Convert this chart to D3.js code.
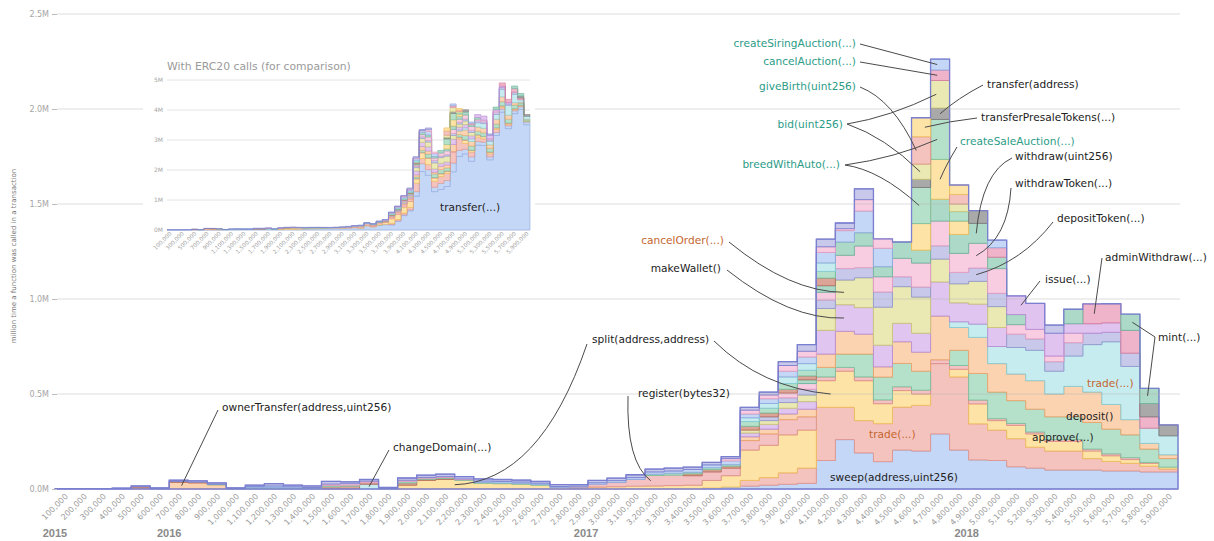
<!DOCTYPE html>
<html><head><meta charset="utf-8">
<script src="https://cdn.jsdelivr.net/npm/d3@7"></script>
<style>html,body{margin:0;padding:0;background:#fff;} svg{display:block;}</style>
</head><body>
<svg id="chart" width="1214" height="541" font-family="'DejaVu Sans', sans-serif"></svg>
<script>
// ---------------- DATA ----------------
const binLabels = ["100,000","200,000","300,000","400,000","500,000","600,000","700,000","800,000","900,000","1,000,000",
"1,100,000","1,200,000","1,300,000","1,400,000","1,500,000","1,600,000","1,700,000","1,800,000","1,900,000","2,000,000",
"2,100,000","2,200,000","2,300,000","2,400,000","2,500,000","2,600,000","2,700,000","2,800,000","2,900,000","3,000,000",
"3,100,000","3,200,000","3,300,000","3,400,000","3,500,000","3,600,000","3,700,000","3,800,000","3,900,000","4,000,000",
"4,100,000","4,200,000","4,300,000","4,400,000","4,500,000","4,600,000","4,700,000","4,800,000","4,900,000","5,000,000",
"5,100,000","5,200,000","5,300,000","5,400,000","5,500,000","5,600,000","5,700,000","5,800,000","5,900,000"];
const yTicks = [0,0.5,1,1.5,2,2.5];
const yTickLabels = ["0.0M","0.5M","1.0M","1.5M","2.0M","2.5M"];
const insetTicks = [0,1,2,3,4,5];
const insetTickLabels = ["0M","1M","2M","3M","4M","5M"];
const years = ["2015","2016","2017","2018"];
const yearBlocks = [0,600000,2790000,4790000];

// values in millions of calls per 100k-block bin
const ownerTransfer = [0,0,0,0,.006,0,.035,.032,.022,0, 0,0,0,0,0,0,0,0,0,0, 0,0,0,0,0,0,0,0,0,0, 0,0,0,0,0,0,0,0,0,0, 0,0,0,0,0,0,0,0,0,0, 0,0,0,0,0,0,0,0,0];
const changeDomain = [0,0,0,0,0,0,0,0,0,0, 0,0,0,0,0,0,.025,0,0,0, 0,0,0,0,0,0,0,0,0,0, 0,0,0,0,0,0,0,0,0,0, 0,0,0,0,0,0,0,0,0,0, 0,0,0,0,0,0,0,0,0];
const sweep = [0,0,0,0,0,0,0,0,0,0, 0,0,0,0,0,0,0,0,0,0, 0,0,0,0,0,0,0,0,0,0,
  0,0,0,0,.005,.01,.015,.02,.025,.03, .15,.26,.19,.144,.205,.2,.29,.205,.153,.15, .117,.11,.1,.1,.1,.095,.095,.09,.09];
const trade = [0,0,0,0,0,0,0,0,0,0, 0,0,0,0,0,0,0,0,0,0, 0,0,0,0,0,0,0,0,0,0,
  0,0,0,0,0,0,.03,.04,.06,.08, .28,.17,.17,.2,.226,.24,.37,.385,.19,.16, .148,.11,.1,.1,.06,.05,.04,.03,.015];
const split = [0,0,0,0,0,0,0,0,0,0, 0,0,0,0,0,0,0,0,.02,.045, .05,.045,.03,.028,.025,.02,.008,.006,.01,.012,
  .015,.016,.018,.02,.04,.06,.16,.17,.2,.2, .14,.19,.21,.105,.087,.06,0,.04,.105,.05, .07,.07,.05,.05,.04,.03,.02,.015,.01];
const register = [0,0,0,0,0,0,0,0,0,0, 0,0,0,0,0,0,0,0,0,0, 0,0,0,0,0,0,0,.004,.015,.022,
  .035,.055,.055,.05,.045,.04,.05,.06,.08,.07, .02,.02,.02,.02,.02,.02,.02,.02,.02,.01, .01,.01,.01,.01,.01,.01,.01,.005,0];
const approve = [0,0,0,0,0,0,0,0,0,0, 0,0,0,0,0,0,0,0,0,0, 0,0,0,0,0,0,0,0,0,0, 0,0,0,0,0,0,0,0,0,0,
  .05,.07,.12,.12,.123,.1,0,.08,.14,.14, .12,.12,.12,.12,.14,.13,.12,.07,.045];
const deposit = [0,0,0,0,0,0,0,0,0,0, 0,0,0,0,0,0,0,0,0,0, 0,0,0,0,0,0,0,0,0,0,
  0,0,0,0,0,0,.02,.025,.03,.04, .07,.12,.105,.054,.114,.1,.23,.12,.19,.15, .14,.15,.12,.16,.16,.13,.08,.03,.02];
const trade2 = [0,0,0,0,0,0,0,0,0,0, 0,0,0,0,0,0,0,0,0,0, 0,0,0,0,0,0,0,0,0,0, 0,0,0,0,0,0,0,0,0,0,
  0,0,0,0,0,0,0,.03,.07,.09, .14,.16,.12,.16,.25,.33,.28,.08,.1];
const makeWallet = [0,0,0,0,0,0,0,0,0,0, 0,0,0,0,0,0,0,0,0,0, 0,0,0,0,0,0,0,0,0,0,
  0,0,0,0,0,0,.02,.025,.03,.04, .125,.14,.14,.114,.097,.1,.18,.1,.105,.1, 0,0,0,0,0,0,0,0,0];
const cancelOrder = [0,0,0,0,0,0,0,0,0,0, 0,0,0,0,0,0,0,0,0,0, 0,0,0,0,0,0,0,0,0,0,
  0,0,0,0,0,0,.015,.02,.03,.035, .115,.13,.157,.2,.193,.19,.12,.1,.12,.11, 0,0,0,0,0,0,0,0,0];
const depositToken = [0,0,0,0,0,0,0,0,0,0, 0,0,0,0,0,0,0,0,0,0, 0,0,0,0,0,0,0,0,0,0,
  0,0,0,0,0,0,0,.02,.025,.03, .045,.06,.053,.08,.052,.053,.07,.06,.07,.07, .07,.06,.05,.07,.06,.05,.07,0,0];
const withdrawToken = [0,0,0,0,0,0,0,0,0,0, 0,0,0,0,0,0,0,0,0,0, 0,0,0,0,0,0,0,0,0,0,
  0,0,0,0,0,0,0,0,.025,.03, .04,.07,.114,.08,.097,.126,.13,.1,.13,.13, .05,.05,.03,.05,0,0,0,0,0];
const withdraw = [0,0,0,0,0,0,0,0,0,0, 0,0,0,0,0,0,0,0,0,0, 0,0,0,0,0,0,0,0,0,0,
  0,0,0,0,0,0,0,0,0,.02, .035,.07,.07,.053,.086,.068,.115,.1,.105,.06, .053,0,0,0,0,0,0,0,0];
const issue = [0,0,0,0,0,0,0,0,0,0, 0,0,0,0,0,0,0,0,0,0, 0,0,0,0,0,0,0,0,0,0, 0,0,0,0,0,0,0,0,0,0,
  0,0,0,0,0,0,0,0,0,0, .098,.137,.12,.05,.05,.05,0,0,0];
const adminWithdraw = [0,0,0,0,0,0,0,0,0,0, 0,0,0,0,0,0,0,0,0,0, 0,0,0,0,0,0,0,0,0,0, 0,0,0,0,0,0,0,0,0,0,
  0,0,0,0,0,0,0,0,0,.05, 0,0,0,0,.104,.1,.12,.06,0];
const createSaleAuction = [0,0,0,0,0,0,0,0,0,0, 0,0,0,0,0,0,0,0,0,0, 0,0,0,0,0,0,0,0,0,0, 0,0,0,0,0,0,0,0,0,0,
  0,0,0,0,0,.14,.21,.07,0,0, 0,0,0,0,0,0,0,0,0];
const breedWithAuto = [0,0,0,0,0,0,0,0,0,0, 0,0,0,0,0,0,0,0,0,0, 0,0,0,0,0,0,0,0,0,0, 0,0,0,0,0,0,0,0,0,0,
  0,0,0,0,0,.19,.21,.05,0,0, 0,0,0,0,0,0,0,0,0];
const transferAddr = [0,0,0,0,0,0,0,0,0,0, 0,0,0,0,0,0,0,0,0,0, 0,0,0,0,0,0,0,0,0,0, 0,0,0,0,0,0,0,0,0,0,
  0,0,0,0,0,.043,.06,0,.067,0, 0,0,0,0,0,0,0,.07,.057];
const mint = [0,0,0,0,0,0,0,0,0,0, 0,0,0,0,0,0,0,0,0,0, 0,0,0,0,0,0,0,0,0,0, 0,0,0,0,0,0,0,0,0,0,
  0,0,0,0,0,0,0,0,0,0, 0,0,0,.076,0,0,.085,.08,0];
const bid = [0,0,0,0,0,0,0,0,0,0, 0,0,0,0,0,0,0,0,0,0, 0,0,0,0,0,0,0,0,0,0, 0,0,0,0,0,0,0,0,0,0,
  0,0,0,0,0,.08,.145,.04,0,0, 0,0,0,0,0,0,0,0,0];
const giveBirth = [0,0,0,0,0,0,0,0,0,0, 0,0,0,0,0,0,0,0,0,0, 0,0,0,0,0,0,0,0,0,0, 0,0,0,0,0,0,0,0,0,0,
  0,0,0,0,0,.144,0,.05,0,0, 0,0,0,0,0,0,0,0,0];
const transferPresaleTokens = [0,0,0,0,0,0,0,0,0,0, 0,0,0,0,0,0,0,0,0,0, 0,0,0,0,0,0,0,0,0,0, 0,0,0,0,0,0,0,0,0,0,
  0,0,0,0,0,.1,0,.05,0,0, 0,0,0,0,0,0,0,0,0];
const cancelAuction = [0,0,0,0,0,0,0,0,0,0, 0,0,0,0,0,0,0,0,0,0, 0,0,0,0,0,0,0,0,0,0, 0,0,0,0,0,0,0,0,0,0,
  0,0,0,0,0,0,.055,0,0,0, 0,0,0,0,0,0,0,0,0];
const createSiringAuction = [0,0,0,0,0,0,0,0,0,0, 0,0,0,0,0,0,0,0,0,0, 0,0,0,0,0,0,0,0,0,0, 0,0,0,0,0,0,0,0,0,0,
  0,0,0,0,0,0,.058,0,0,0, 0,0,0,0,0,0,0,0,0];
const otherRust = [0,0,0,0,.006,0,.004,.004,0,0, 0,0,0,0,.012,.015,.008,0,.012,.006, .005,0,0,0,0,0,0,0,0,0,
  0,0,0,.01,.012,.01,.02,.02,.02,.02, .04,0,0,0,0,0,0,0,0,0, 0,0,0,0,0,0,0,0,0];
const otherGreen = [0,0,0,0,0,.002,0,0,.003,.002, .008,.008,.006,.004,.006,.005,0,.003,.008,.005, .005,.004,.004,.004,.004,.003,0,0,0,0,
  0,.007,.01,.008,.01,.008,.025,.025,.03,.03, .035,0,0,0,0,0,0,0,0,0, 0,0,0,0,0,0,0,0,0];
const otherCyan = [0,0,0,0,0,0,0,0,0,0, 0,0,0,0,0,0,0,0,0,0, 0,0,0,0,0,0,0,0,0,0,
  0,0,0,0,0,0,.02,.025,.035,.035, .045,0,0,0,0,0,0,0,0,0, 0,0,0,0,0,0,0,0,0];
const otherBlue = [0,0,0,0,0,0,0,0,0,0, .006,.008,.006,.004,0,0,0,0,0,0, 0,0,.008,.008,.008,.008,.005,.005,.008,.01,
  .01,.012,.012,.015,.015,.02,.02,.025,.03,.035, .055,.06,.114,.097,0,0,0,0,0,.04, 0,0,0,0,0,0,0,0,0];
const otherPink = [0,0,0,0,0,0,0,0,0,0, 0,0,0,0,.008,.008,.008,0,.006,.005, .005,.004,0,0,0,0,0,0,0,0,
  0,0,0,0,0,.012,.02,.02,.03,.03, .03,.01,.06,.049,0,0,0,0,0,0, 0,0,0,0,0,0,0,0,0];
const otherLavender = [.002,.002,.002,.005,.004,.004,.007,.007,.007,.004, .006,.012,.008,.008,.014,.01,.009,.005,.012,.012,
  .013,.012,.011,.01,.01,.009,.01,.008,.012,.013, .015,.015,.015,.012,.013,.01,.015,.015,.02,.035,
  .04,.03,.057,0,0,0,0,0,0,0, 0,0,.043,0,0,0,0,0,0];
// inset: ERC20 transfer(...) calls (millions), stacked under the same functions
const insetTransfer = [.005,.005,.005,.005,.01,.008,.01,.01,.01,.012, .015,.015,.018,.02,.02,.022,.02,.03,.02,.02,
  .02,.025,.035,.04,.045,.05,.065,.07,.06,.065, .075,.06,.14,.1,.16,.18,.17,.29,.48,.64,
  1.13,1.95,1.82,1.28,1.35,1.45,1.94,2.45,2.54,2.29, 2.83,2.82,2.34,3.15,3.93,3.38,3.88,4.02,3.51];

// ---------------- STYLE ----------------
const seriesData = {ownerTransfer, changeDomain, sweep, trade, split, register, approve, deposit, trade2, makeWallet,
  cancelOrder, depositToken, withdrawToken, withdraw, issue, adminWithdraw, createSaleAuction, breedWithAuto,
  transferAddr, mint, bid, giveBirth, transferPresaleTokens, cancelAuction, createSiringAuction,
  otherRust, otherGreen, otherCyan, otherBlue, otherPink, otherLavender, insetTransfer};
const stackOrder = ["ownerTransfer","changeDomain","sweep","trade","split","register","approve","deposit","trade2",
  "makeWallet","cancelOrder","depositToken","withdrawToken","withdraw","issue","adminWithdraw","createSaleAuction",
  "breedWithAuto","transferAddr","mint","bid","giveBirth","transferPresaleTokens","cancelAuction","createSiringAuction",
  "otherRust","otherGreen","otherCyan","otherBlue","otherPink","otherLavender"];
const BLUE=["#c5d7f6","#8ea9df"], SALMON=["#f5c3bd","#e2958b"], YELLOW=["#fde3a6","#eebd5b"], GREEN=["#b5e1cb","#7bc19e"],
  PEACH=["#fcd3b0","#eba36b"], CYAN=["#c7ecef","#85ccd4"], LILAC=["#dfc5ef","#b98fd6"], KHAKI=["#eae8b3","#cbc677"],
  LAV=["#c8c9ea","#9398cf"], PINK=["#f8cde1","#e49dbf"], TEAL=["#acd9c8","#6fb79d"], ROSE=["#efb4ca","#d67d9f"],
  GRAY=["#a9a9a9","#7c7c7c"];
const styles = {ownerTransfer:PEACH, changeDomain:CYAN, sweep:BLUE, trade:SALMON, split:YELLOW, register:["#f4c2c2","#dd8e8e"],
  approve:GREEN, deposit:PEACH, trade2:CYAN, makeWallet:LILAC, cancelOrder:KHAKI, depositToken:LAV, withdrawToken:PINK,
  withdraw:TEAL, issue:["#e0c3ee","#b98bd5"], adminWithdraw:ROSE, createSaleAuction:YELLOW, breedWithAuto:GREEN,
  transferAddr:GRAY, mint:TEAL, bid:KHAKI, giveBirth:SALMON, transferPresaleTokens:YELLOW, cancelAuction:ROSE,
  createSiringAuction:BLUE, otherRust:["#dca497","#b8705f"], otherGreen:GREEN, otherCyan:CYAN, otherBlue:BLUE,
  otherPink:PINK, otherLavender:["#c8c9ea","#7b7fcf"], insetTransfer:BLUE};
const C_TEAL="#2c9c88", C_ORANGE="#c4662f", C_INK="#222";

// ---------------- DRAW ----------------
const svg = d3.select("#chart");
const x = d3.scaleBand().domain(binLabels).range([55,1178]).padding(0);
const y = d3.scaleLinear().domain([0,2.5]).range([489,14]);
const blockX = d3.scaleLinear().domain([0,5900000]).range([55,1178]);
const bw = x.bandwidth();

function buildRows(keys){ return binLabels.map((lab,i)=>{const r={label:lab}; keys.forEach(k=>r[k]=seriesData[k][i]); return r;}); }
function stepPoints(layer, xs){
  const pts=[]; layer.forEach((d,i)=>{const x0=xs(binLabels[i]), x1=x0+xs.bandwidth(), v=d[1]-d[0];
    pts.push({x:x0,a:d[0],b:d[1],v},{x:x1,a:d[0],b:d[1],v});}); return pts;
}

const layers = d3.stack().keys(stackOrder)(buildRows(stackOrder));
const area = d3.area().defined(p=>p.v>0).x(p=>p.x).y0(p=>y(p.a)).y1(p=>y(p.b));
const gA = svg.append("g");
layers.forEach(L=>{
  gA.append("path").attr("d", area(stepPoints(L,x))).attr("fill", styles[L.key][0])
    .attr("stroke", styles[L.key][1]).attr("stroke-width",0.9).attr("stroke-linejoin","miter");
});
// outline of total
const topL = layers[layers.length-1];
const tp = stepPoints(topL,x);
const outline = [{x:x(binLabels[0]),b:0}, ...tp, {x:x(binLabels[58])+bw,b:0}, {x:x(binLabels[0]),b:0}];
svg.append("path").attr("d", d3.line().x(p=>p.x).y(p=>y(p.b))(outline)).attr("fill","none")
  .attr("stroke","#7b7fcf").attr("stroke-width",1.3);

// gridlines (over areas, faint)
const yAxis = d3.axisLeft(y).tickValues(yTicks).tickFormat((d,i)=>yTickLabels[i]).tickSize(5).tickPadding(3);
const gy = svg.append("g").attr("transform","translate(57,0)").call(yAxis);
gy.select(".domain").remove();
gy.selectAll(".tick line").attr("stroke","#bbb");
gy.selectAll(".tick text").attr("fill","#a5a5a5").attr("font-size",8).attr("font-family","'DejaVu Sans', sans-serif");
svg.append("g").selectAll("line").data(yTicks.filter(d=>d>0)).join("line")
  .attr("x1",57).attr("x2",1180).attr("y1",d=>y(d)).attr("y2",d=>y(d))
  .attr("stroke","#b4b4b4").attr("stroke-opacity",0.45).attr("stroke-width",1);

// x tick labels
svg.append("g").selectAll("text").data(binLabels).join("text")
  .attr("transform", d=>`translate(${x(d)+bw/2+4},497) rotate(-45)`)
  .attr("text-anchor","end").attr("font-size",8).attr("fill","#9a9a9a").text(d=>d);
// years
svg.append("g").selectAll("text").data(years).join("text")
  .attr("x",(d,i)=>blockX(yearBlocks[i])).attr("y",537).attr("text-anchor","middle")
  .attr("font-family","'Liberation Sans', sans-serif").attr("font-weight","bold").attr("font-size",11)
  .attr("fill","#8a8a8a").text(d=>d);
// y title
svg.append("text").attr("transform","translate(16,256) rotate(-90)").attr("text-anchor","middle")
  .attr("font-size",7).attr("fill","#777").text("million time a function was called in a transaction");

// ---------------- INSET ----------------
svg.append("rect").attr("x",143).attr("y",50).attr("width",392).attr("height",205).attr("fill","#fff");
const xi = d3.scaleBand().domain(binLabels).range([167,530]).padding(0);
const yi = d3.scaleLinear().domain([0,5]).range([230,80]);
svg.append("text").attr("x",167).attr("y",70).attr("font-size",10.8).attr("fill","#9a9a9a")
  .text("With ERC20 calls (for comparison)");
svg.append("g").selectAll("line").data(insetTicks).join("line")
  .attr("x1",167).attr("x2",530).attr("y1",d=>yi(d)).attr("y2",d=>yi(d)).attr("stroke","#e4e4e4");
svg.append("g").selectAll("text").data(insetTicks).join("text")
  .attr("x",163).attr("y",d=>yi(d)).attr("dy","0.35em").attr("text-anchor","end")
  .attr("font-size",6).attr("fill","#a5a5a5").text((d,i)=>insetTickLabels[i]);
const insetOrder = ["insetTransfer", ...stackOrder];
const ilayers = d3.stack().keys(insetOrder)(buildRows(insetOrder));
const iarea = d3.area().defined(p=>p.v>0).x(p=>p.x).y0(p=>yi(p.a)).y1(p=>yi(p.b));
ilayers.forEach(L=>{
  svg.append("path").attr("d", iarea(stepPoints(L,xi))).attr("fill", styles[L.key][0])
    .attr("stroke", styles[L.key][1]).attr("stroke-width",0.6);
});
svg.append("g").selectAll("text").data(binLabels.filter((d,i)=>i%2===0)).join("text")
  .attr("transform", d=>`translate(${xi(d)+xi.bandwidth()/2+2},234) rotate(-45)`)
  .attr("text-anchor","end").attr("font-size",5.6).attr("fill","#a0a0a0").text(d=>d);
svg.append("text").attr("x",440).attr("y",211).attr("font-size",10.6).attr("fill",C_INK).text("transfer(...)");

// ---------------- ANNOTATIONS ----------------
function target(key, bin, frac){
  const L = layers.find(l=>l.key===key), d=L[bin];
  return [x(binLabels[bin]) + frac*bw, y((d[0]+d[1])/2)];
}
const annotations = [
  {t:"createSiringAuction(...)", x:856, y:47, a:"end", c:C_TEAL, L:[[860,44,"createSiringAuction",46,.35,null]]},
  {t:"cancelAuction(...)", x:856, y:65, a:"end", c:C_TEAL, L:[[860,62,"cancelAuction",46,.35,null]]},
  {t:"giveBirth(uint256)", x:856, y:90, a:"end", c:C_TEAL, L:[[860,87,"giveBirth",45,.25,[893,100]]]},
  {t:"bid(uint256)", x:843, y:128, a:"end", c:C_TEAL, L:[[847,124,"bid",46,.3,[890,117]],[847,124,"bid",45,.45,[885,137]]]},
  {t:"breedWithAuto(...)", x:840, y:168, a:"end", c:C_TEAL, L:[[845,165,"breedWithAuto",46,.35,[895,158]],[845,165,"breedWithAuto",45,.4,[880,170]]]},
  {t:"transfer(address)", x:987, y:88, a:"start", c:C_INK, L:[[983,85,"transferAddr",46,.5,[958,98]]]},
  {t:"transferPresaleTokens(...)", x:981, y:121, a:"start", c:C_INK, L:[[977,118,"transferPresaleTokens",45,.7,[950,121]]]},
  {t:"createSaleAuction(...)", x:960, y:145, a:"start", c:C_TEAL, L:[[957,147,"createSaleAuction",46,.5,[946,165]]]},
  {t:"withdraw(uint256)", x:1015, y:160, a:"start", c:C_INK, L:[[1012,158,"withdraw",48,.4,[982,172]]]},
  {t:"withdrawToken(...)", x:1015, y:187, a:"start", c:C_INK, L:[[1011,188,"withdrawToken",48,.4,[1008,238]]]},
  {t:"depositToken(...)", x:1057, y:222, a:"start", c:C_INK, L:[[1053,222,"depositToken",48,.4,[1022,262]]]},
  {t:"issue(...)", x:1045, y:283, a:"start", c:C_INK, L:[[1040,281,"issue",50,.75,null]]},
  {t:"adminWithdraw(...)", x:1105, y:261, a:"start", c:C_INK, L:[[1102,258,"adminWithdraw",54,.6,null]]},
  {t:"mint(...)", x:1158, y:341, a:"start", c:C_INK, L:[[1155,337,"mint",56,.6,null],[1155,337,"mint",57,.4,null]]},
  {t:"cancelOrder(...)", x:724, y:244, a:"end", c:C_ORANGE, L:[[729,242,"cancelOrder",41,.45,[790,292]]]},
  {t:"makeWallet()", x:721, y:272, a:"end", c:C_INK, L:[[727,270,"makeWallet",41,.45,[790,320]]]},
  {t:"split(address,address)", x:592, y:343, a:"start", c:C_INK, L:[[714,341,"split",40,.75,[762,388]],[587,344,"split",21,0,[540,482]]]},
  {t:"register(bytes32)", x:638, y:397, a:"start", c:C_INK, L:[[628,396,"register",31,.3,[626,462]]]},
  {t:"ownerTransfer(address,uint256)", x:222, y:411, a:"start", c:C_INK, L:[[218,410,"ownerTransfer",6,.65,null]]},
  {t:"changeDomain(...)", x:393, y:451, a:"start", c:C_INK, L:[[389,450,"changeDomain",16,.5,null]]},
  {t:"trade(...)", x:869, y:438, a:"start", c:C_ORANGE, L:[]},
  {t:"sweep(address,uint256)", x:830, y:481, a:"start", c:C_INK, L:[]},
  {t:"trade(...)", x:1087, y:387, a:"start", c:C_ORANGE, L:[]},
  {t:"deposit()", x:1066, y:420, a:"start", c:C_INK, L:[]},
  {t:"approve(...)", x:1032, y:441, a:"start", c:C_INK, L:[]}
];
const gL = svg.append("g");
annotations.forEach(an=>{
  an.L.forEach(([sx,sy,key,bin,frac,ctrl])=>{
    const [tx,ty] = target(key,bin,frac);
    const p = d3.path(); p.moveTo(sx,sy);
    if (ctrl) p.quadraticCurveTo(ctrl[0],ctrl[1],tx,ty); else p.lineTo(tx,ty);
    gL.append("path").attr("d",p.toString()).attr("fill","none").attr("stroke","#4a4a4a").attr("stroke-width",1);
  });
  gL.append("text").attr("x",an.x).attr("y",an.y).attr("text-anchor",an.a).attr("font-size",10.6)
    .attr("fill",an.c).text(an.t);
});
</script>
</body></html>
